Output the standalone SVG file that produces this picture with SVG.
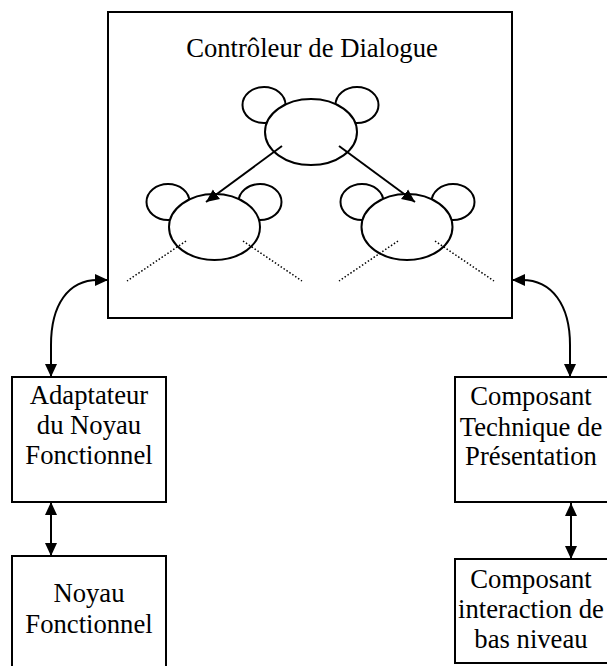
<svg xmlns="http://www.w3.org/2000/svg" width="607" height="666" viewBox="0 0 607 666">
  <style>
    .box { fill: #fff; stroke: #000; stroke-width: 2; }
    .lbl { font-family: "Liberation Serif", "Times New Roman", serif; font-size: 26.67px; fill: #000; text-anchor: middle; }
    .ear, .head { fill: #fff; stroke: #000; stroke-width: 2; }
    .link { fill: none; stroke: #000; stroke-width: 2; }
    .dots { fill: none; stroke: #000; stroke-width: 1.5; stroke-dasharray: 1.5 2; }
  </style>
  <defs>
    <marker id="head" markerUnits="userSpaceOnUse" markerWidth="14" markerHeight="14" viewBox="0 0 14 14" refX="13" refY="7" orient="auto-start-reverse">
      <path d="M0,1 L13,7 L0,13 z" fill="#000"/>
    </marker>
  </defs>
  <rect width="607" height="666" fill="#fff"/>

  <!-- dialogue controller with its tree of agents -->
  <g id="controleur">
    <rect class="box" x="108" y="12" width="404" height="306"/>
    <text class="lbl" x="312" y="57">Contrôleur de Dialogue</text>
    <g id="agent-racine">
      <ellipse class="ear" cx="264" cy="105" rx="21.5" ry="18"/>
      <ellipse class="ear" cx="357" cy="105" rx="21.5" ry="18"/>
      <ellipse class="head" cx="311" cy="132" rx="46" ry="33"/>
    </g>
    <g id="agent-gauche">
      <ellipse class="ear" cx="168" cy="202" rx="21.5" ry="18"/>
      <ellipse class="ear" cx="260" cy="202" rx="21.5" ry="18"/>
      <ellipse class="head" cx="214.5" cy="227" rx="45.5" ry="33"/>
    </g>
    <g id="agent-droit">
      <ellipse class="ear" cx="362" cy="202" rx="21.5" ry="18"/>
      <ellipse class="ear" cx="453" cy="202" rx="21.5" ry="18"/>
      <ellipse class="head" cx="407" cy="227" rx="45.5" ry="33"/>
    </g>
  </g>

  <g id="adaptateur">
    <rect class="box" x="12" y="377" width="154" height="125"/>
    <text class="lbl" x="89" y="404">Adaptateur</text>
    <text class="lbl" x="89" y="434">du Noyau</text>
    <text class="lbl" x="89" y="464">Fonctionnel</text>
  </g>

  <g id="noyau">
    <rect class="box" x="12" y="556" width="154" height="130"/>
    <text class="lbl" x="89" y="602">Noyau</text>
    <text class="lbl" x="89" y="633">Fonctionnel</text>
  </g>

  <g id="presentation">
    <rect class="box" x="455" y="377" width="160" height="125"/>
    <text class="lbl" x="531" y="405">Composant</text>
    <text class="lbl" x="531" y="436">Technique de</text>
    <text class="lbl" x="531" y="465">Présentation</text>
  </g>

  <g id="interaction">
    <rect class="box" x="455" y="559" width="160" height="104"/>
    <text class="lbl" x="531" y="588">Composant</text>
    <text class="lbl" x="531" y="618">interaction de</text>
    <text class="lbl" x="531" y="648">bas niveau</text>
  </g>

  <g id="connecteurs">
    <line class="link" x1="282" y1="146" x2="206" y2="202" marker-end="url(#head)"/>
    <line class="link" x1="339" y1="146" x2="415" y2="202" marker-end="url(#head)"/>
    <line class="dots" x1="186" y1="241" x2="127" y2="281"/>
    <line class="dots" x1="243" y1="241" x2="302" y2="281"/>
    <line class="dots" x1="398" y1="241" x2="339" y2="281"/>
    <line class="dots" x1="435" y1="241" x2="494" y2="281"/>
    <path class="link" d="M108,280 L98,280 C68,280 51,305 51,345 L51,377" marker-start="url(#head)" marker-end="url(#head)"/>
    <path class="link" d="M512,280 L522,280 C552,280 570,305 570,345 L570,377" marker-start="url(#head)" marker-end="url(#head)"/>
    <path class="link" d="M51,502 L51,556" marker-start="url(#head)" marker-end="url(#head)"/>
    <path class="link" d="M571,503 L571,559" marker-start="url(#head)" marker-end="url(#head)"/>
  </g>
</svg>
